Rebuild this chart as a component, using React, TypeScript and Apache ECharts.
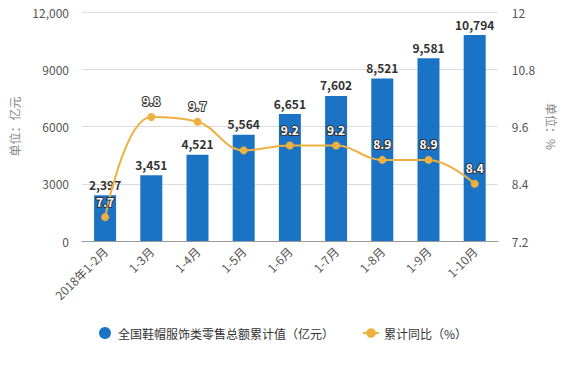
import React, { useEffect, useRef } from "react";
import * as echarts from "echarts";

const categories = ["2018年1-2月", "1-3月", "1-4月", "1-5月", "1-6月", "1-7月", "1-8月", "1-9月", "1-10月"];
const salesValues = [2397, 3451, 4521, 5564, 6651, 7602, 8521, 9581, 10794];
const growthValues = [7.7, 9.8, 9.7, 9.1, 9.2, 9.2, 8.9, 8.9, 8.4];
const hiddenGrowthLabels = [3];
const leftTicks = { min: 0, max: 12000, interval: 3000 };
const rightTicks = { min: 7.2, max: 12, interval: 1.2 };

export default function App() {
  const ref = useRef<HTMLDivElement>(null);
  useEffect(() => {
    document.body.style.margin = "0";
    const chart = echarts.init(ref.current!, null, { renderer: "svg" });
    const font = "'Microsoft YaHei', 'Noto Sans CJK SC', sans-serif";
    chart.setOption({
      animation: false,
      textStyle: { fontFamily: font },
      grid: { left: 75, right: 65, top: 12, bottom: 124 },
      legend: {
        bottom: 21,
        left: "center",
        itemGap: 28,
        itemWidth: 16,
        itemHeight: 12,
        textStyle: { fontSize: 12, color: "#333" },
        data: [
          { name: "全国鞋帽服饰类零售总额累计值（亿元）", icon: "circle" },
          { name: "累计同比（%）" },
        ],
      },
      xAxis: {
        type: "category",
        data: categories,
        axisLine: { lineStyle: { color: "#999" } },
        axisTick: { alignWithLabel: true, lineStyle: { color: "#999" } },
        axisLabel: { rotate: 45, fontSize: 12, color: "#555", margin: 8 },
      },
      yAxis: [
        {
          type: "value",
          ...leftTicks,
          name: "单位：亿元",
          nameLocation: "middle",
          nameRotate: 90,
          nameGap: 62,
          nameTextStyle: { color: "#888", fontSize: 12 },
          axisLine: { show: false },
          axisTick: { show: false },
          axisLabel: {
            color: "#555",
            fontSize: 12,
            margin: 13,
            formatter: (v: number) => (v >= 10000 ? v.toLocaleString("en-US") : String(v)),
          },
          splitLine: { lineStyle: { color: "#dcdcdc" } },
        },
        {
          type: "value",
          ...rightTicks,
          name: "单位：%",
          nameLocation: "middle",
          nameRotate: -90,
          nameGap: 48,
          nameTextStyle: { color: "#888", fontSize: 12 },
          axisLine: { show: false },
          axisTick: { show: false },
          axisLabel: {
            color: "#555",
            fontSize: 12,
            margin: 14,
            formatter: (v: number) => String(Math.round(v * 10) / 10),
          },
          splitLine: { show: false },
        },
      ],
      series: [
        {
          name: "全国鞋帽服饰类零售总额累计值（亿元）",
          type: "bar",
          data: salesValues,
          barWidth: 22,
          itemStyle: { color: "#1a73c4" },
          label: {
            show: true,
            position: "top",
            color: "#333",
            fontWeight: "bold",
            fontSize: 12,
            formatter: (p: any) => Number(p.value).toLocaleString("en-US"),
          },
        },
        {
          name: "累计同比（%）",
          type: "line",
          yAxisIndex: 1,
          smooth: 0.4,
          symbol: "circle",
          symbolSize: 8,
          data: growthValues.map((v, i) =>
            hiddenGrowthLabels.includes(i) ? { value: v, label: { show: false } } : v
          ),
          itemStyle: { color: "#eeb040" },
          lineStyle: { color: "#eeb040", width: 2 },
          label: {
            show: true,
            position: "top",
            distance: 6,
            color: "#fff",
            textBorderColor: "#333",
            textBorderWidth: 2,
            fontWeight: "bold",
            fontSize: 12,
          },
        },
      ],
    });
    return () => chart.dispose();
  }, []);
  return <div ref={ref} style={{ width: 566, height: 365 }} />;
}
